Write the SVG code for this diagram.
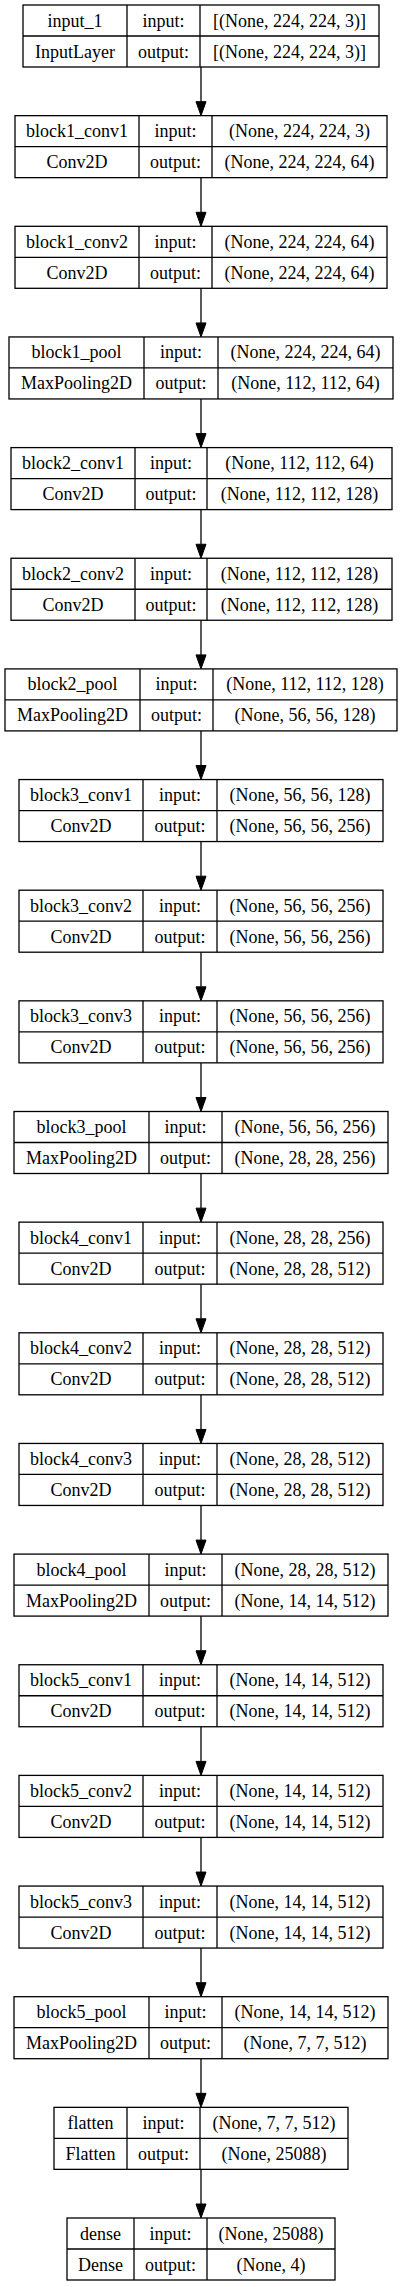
<svg xmlns="http://www.w3.org/2000/svg" width="403" height="2287" viewBox="0 0 403 2287">
<style>
.b{fill:#fff;stroke:#000;stroke-width:1.3}
.l{stroke:#000;stroke-width:1.3}
text{font-family:"Liberation Serif","Times New Roman",serif;font-size:18px;fill:#000;text-anchor:middle}
.e{stroke:#000;stroke-width:1.3;fill:none}
.h{fill:#000;stroke:#000;stroke-width:1}
</style>
<rect width="403" height="2287" fill="#fff"/>
<g id="connectors">
<line class="e" x1="201" y1="67" x2="201" y2="101.65"/><polygon class="h" points="196,101.65 206,101.65 201,115.65"/>
<line class="e" x1="201" y1="177.65" x2="201" y2="212.3"/><polygon class="h" points="196,212.3 206,212.3 201,226.3"/>
<line class="e" x1="201" y1="288.3" x2="201" y2="322.95"/><polygon class="h" points="196,322.95 206,322.95 201,336.95"/>
<line class="e" x1="201" y1="398.95" x2="201" y2="433.6"/><polygon class="h" points="196,433.6 206,433.6 201,447.6"/>
<line class="e" x1="201" y1="509.6" x2="201" y2="544.25"/><polygon class="h" points="196,544.25 206,544.25 201,558.25"/>
<line class="e" x1="201" y1="620.25" x2="201" y2="654.9"/><polygon class="h" points="196,654.9 206,654.9 201,668.9"/>
<line class="e" x1="201" y1="730.9" x2="201" y2="765.55"/><polygon class="h" points="196,765.55 206,765.55 201,779.55"/>
<line class="e" x1="201" y1="841.55" x2="201" y2="876.2"/><polygon class="h" points="196,876.2 206,876.2 201,890.2"/>
<line class="e" x1="201" y1="952.2" x2="201" y2="986.85"/><polygon class="h" points="196,986.85 206,986.85 201,1000.85"/>
<line class="e" x1="201" y1="1062.85" x2="201" y2="1097.5"/><polygon class="h" points="196,1097.5 206,1097.5 201,1111.5"/>
<line class="e" x1="201" y1="1173.5" x2="201" y2="1208.15"/><polygon class="h" points="196,1208.15 206,1208.15 201,1222.15"/>
<line class="e" x1="201" y1="1284.15" x2="201" y2="1318.8"/><polygon class="h" points="196,1318.8 206,1318.8 201,1332.8"/>
<line class="e" x1="201" y1="1394.8" x2="201" y2="1429.45"/><polygon class="h" points="196,1429.45 206,1429.45 201,1443.45"/>
<line class="e" x1="201" y1="1505.45" x2="201" y2="1540.1"/><polygon class="h" points="196,1540.1 206,1540.1 201,1554.1"/>
<line class="e" x1="201" y1="1616.1" x2="201" y2="1650.75"/><polygon class="h" points="196,1650.75 206,1650.75 201,1664.75"/>
<line class="e" x1="201" y1="1726.75" x2="201" y2="1761.4"/><polygon class="h" points="196,1761.4 206,1761.4 201,1775.4"/>
<line class="e" x1="201" y1="1837.4" x2="201" y2="1872.05"/><polygon class="h" points="196,1872.05 206,1872.05 201,1886.05"/>
<line class="e" x1="201" y1="1948.05" x2="201" y2="1982.7"/><polygon class="h" points="196,1982.7 206,1982.7 201,1996.7"/>
<line class="e" x1="201" y1="2058.7" x2="201" y2="2093.35"/><polygon class="h" points="196,2093.35 206,2093.35 201,2107.35"/>
<line class="e" x1="201" y1="2169.35" x2="201" y2="2204"/><polygon class="h" points="196,2204 206,2204 201,2218"/>
</g>
<g id="input_1" transform="translate(0,5)">
<rect class="b" x="23" y="0" width="356" height="62"/><line class="l" x1="23" y1="31" x2="379" y2="31"/><line class="l" x1="127" y1="0" x2="127" y2="62"/><line class="l" x1="200" y1="0" x2="200" y2="62"/>
<text x="75" y="21.5">input_1</text><text x="163.5" y="21.5">input:</text><text x="289.5" y="21.5">[(None, 224, 224, 3)]</text>
<text x="75" y="52.5">InputLayer</text><text x="163.5" y="52.5">output:</text><text x="289.5" y="52.5">[(None, 224, 224, 3)]</text>
</g>
<g id="block1_conv1" transform="translate(0,115.65)">
<rect class="b" x="15" y="0" width="372" height="62"/><line class="l" x1="15" y1="31" x2="387" y2="31"/><line class="l" x1="139" y1="0" x2="139" y2="62"/><line class="l" x1="212" y1="0" x2="212" y2="62"/>
<text x="77" y="21.5">block1_conv1</text><text x="175.5" y="21.5">input:</text><text x="299.5" y="21.5">(None, 224, 224, 3)</text>
<text x="77" y="52.5">Conv2D</text><text x="175.5" y="52.5">output:</text><text x="299.5" y="52.5">(None, 224, 224, 64)</text>
</g>
<g id="block1_conv2" transform="translate(0,226.3)">
<rect class="b" x="15" y="0" width="372" height="62"/><line class="l" x1="15" y1="31" x2="387" y2="31"/><line class="l" x1="139" y1="0" x2="139" y2="62"/><line class="l" x1="212" y1="0" x2="212" y2="62"/>
<text x="77" y="21.5">block1_conv2</text><text x="175.5" y="21.5">input:</text><text x="299.5" y="21.5">(None, 224, 224, 64)</text>
<text x="77" y="52.5">Conv2D</text><text x="175.5" y="52.5">output:</text><text x="299.5" y="52.5">(None, 224, 224, 64)</text>
</g>
<g id="block1_pool" transform="translate(0,336.95)">
<rect class="b" x="9" y="0" width="384" height="62"/><line class="l" x1="9" y1="31" x2="393" y2="31"/><line class="l" x1="144" y1="0" x2="144" y2="62"/><line class="l" x1="218" y1="0" x2="218" y2="62"/>
<text x="76.5" y="21.5">block1_pool</text><text x="181" y="21.5">input:</text><text x="305.5" y="21.5">(None, 224, 224, 64)</text>
<text x="76.5" y="52.5">MaxPooling2D</text><text x="181" y="52.5">output:</text><text x="305.5" y="52.5">(None, 112, 112, 64)</text>
</g>
<g id="block2_conv1" transform="translate(0,447.6)">
<rect class="b" x="11" y="0" width="381" height="62"/><line class="l" x1="11" y1="31" x2="392" y2="31"/><line class="l" x1="135" y1="0" x2="135" y2="62"/><line class="l" x1="207" y1="0" x2="207" y2="62"/>
<text x="73" y="21.5">block2_conv1</text><text x="171" y="21.5">input:</text><text x="299.5" y="21.5">(None, 112, 112, 64)</text>
<text x="73" y="52.5">Conv2D</text><text x="171" y="52.5">output:</text><text x="299.5" y="52.5">(None, 112, 112, 128)</text>
</g>
<g id="block2_conv2" transform="translate(0,558.25)">
<rect class="b" x="11" y="0" width="381" height="62"/><line class="l" x1="11" y1="31" x2="392" y2="31"/><line class="l" x1="135" y1="0" x2="135" y2="62"/><line class="l" x1="207" y1="0" x2="207" y2="62"/>
<text x="73" y="21.5">block2_conv2</text><text x="171" y="21.5">input:</text><text x="299.5" y="21.5">(None, 112, 112, 128)</text>
<text x="73" y="52.5">Conv2D</text><text x="171" y="52.5">output:</text><text x="299.5" y="52.5">(None, 112, 112, 128)</text>
</g>
<g id="block2_pool" transform="translate(0,668.9)">
<rect class="b" x="5" y="0" width="392" height="62"/><line class="l" x1="5" y1="31" x2="397" y2="31"/><line class="l" x1="140" y1="0" x2="140" y2="62"/><line class="l" x1="213" y1="0" x2="213" y2="62"/>
<text x="72.5" y="21.5">block2_pool</text><text x="176.5" y="21.5">input:</text><text x="305" y="21.5">(None, 112, 112, 128)</text>
<text x="72.5" y="52.5">MaxPooling2D</text><text x="176.5" y="52.5">output:</text><text x="305" y="52.5">(None, 56, 56, 128)</text>
</g>
<g id="block3_conv1" transform="translate(0,779.55)">
<rect class="b" x="19" y="0" width="364" height="62"/><line class="l" x1="19" y1="31" x2="383" y2="31"/><line class="l" x1="143" y1="0" x2="143" y2="62"/><line class="l" x1="217" y1="0" x2="217" y2="62"/>
<text x="81" y="21.5">block3_conv1</text><text x="180" y="21.5">input:</text><text x="300" y="21.5">(None, 56, 56, 128)</text>
<text x="81" y="52.5">Conv2D</text><text x="180" y="52.5">output:</text><text x="300" y="52.5">(None, 56, 56, 256)</text>
</g>
<g id="block3_conv2" transform="translate(0,890.2)">
<rect class="b" x="19" y="0" width="364" height="62"/><line class="l" x1="19" y1="31" x2="383" y2="31"/><line class="l" x1="143" y1="0" x2="143" y2="62"/><line class="l" x1="217" y1="0" x2="217" y2="62"/>
<text x="81" y="21.5">block3_conv2</text><text x="180" y="21.5">input:</text><text x="300" y="21.5">(None, 56, 56, 256)</text>
<text x="81" y="52.5">Conv2D</text><text x="180" y="52.5">output:</text><text x="300" y="52.5">(None, 56, 56, 256)</text>
</g>
<g id="block3_conv3" transform="translate(0,1000.85)">
<rect class="b" x="19" y="0" width="364" height="62"/><line class="l" x1="19" y1="31" x2="383" y2="31"/><line class="l" x1="143" y1="0" x2="143" y2="62"/><line class="l" x1="217" y1="0" x2="217" y2="62"/>
<text x="81" y="21.5">block3_conv3</text><text x="180" y="21.5">input:</text><text x="300" y="21.5">(None, 56, 56, 256)</text>
<text x="81" y="52.5">Conv2D</text><text x="180" y="52.5">output:</text><text x="300" y="52.5">(None, 56, 56, 256)</text>
</g>
<g id="block3_pool" transform="translate(0,1111.5)">
<rect class="b" x="14" y="0" width="374" height="62"/><line class="l" x1="14" y1="31" x2="388" y2="31"/><line class="l" x1="149" y1="0" x2="149" y2="62"/><line class="l" x1="222" y1="0" x2="222" y2="62"/>
<text x="81.5" y="21.5">block3_pool</text><text x="185.5" y="21.5">input:</text><text x="305" y="21.5">(None, 56, 56, 256)</text>
<text x="81.5" y="52.5">MaxPooling2D</text><text x="185.5" y="52.5">output:</text><text x="305" y="52.5">(None, 28, 28, 256)</text>
</g>
<g id="block4_conv1" transform="translate(0,1222.15)">
<rect class="b" x="19" y="0" width="364" height="62"/><line class="l" x1="19" y1="31" x2="383" y2="31"/><line class="l" x1="143" y1="0" x2="143" y2="62"/><line class="l" x1="217" y1="0" x2="217" y2="62"/>
<text x="81" y="21.5">block4_conv1</text><text x="180" y="21.5">input:</text><text x="300" y="21.5">(None, 28, 28, 256)</text>
<text x="81" y="52.5">Conv2D</text><text x="180" y="52.5">output:</text><text x="300" y="52.5">(None, 28, 28, 512)</text>
</g>
<g id="block4_conv2" transform="translate(0,1332.8)">
<rect class="b" x="19" y="0" width="364" height="62"/><line class="l" x1="19" y1="31" x2="383" y2="31"/><line class="l" x1="143" y1="0" x2="143" y2="62"/><line class="l" x1="217" y1="0" x2="217" y2="62"/>
<text x="81" y="21.5">block4_conv2</text><text x="180" y="21.5">input:</text><text x="300" y="21.5">(None, 28, 28, 512)</text>
<text x="81" y="52.5">Conv2D</text><text x="180" y="52.5">output:</text><text x="300" y="52.5">(None, 28, 28, 512)</text>
</g>
<g id="block4_conv3" transform="translate(0,1443.45)">
<rect class="b" x="19" y="0" width="364" height="62"/><line class="l" x1="19" y1="31" x2="383" y2="31"/><line class="l" x1="143" y1="0" x2="143" y2="62"/><line class="l" x1="217" y1="0" x2="217" y2="62"/>
<text x="81" y="21.5">block4_conv3</text><text x="180" y="21.5">input:</text><text x="300" y="21.5">(None, 28, 28, 512)</text>
<text x="81" y="52.5">Conv2D</text><text x="180" y="52.5">output:</text><text x="300" y="52.5">(None, 28, 28, 512)</text>
</g>
<g id="block4_pool" transform="translate(0,1554.1)">
<rect class="b" x="14" y="0" width="374" height="62"/><line class="l" x1="14" y1="31" x2="388" y2="31"/><line class="l" x1="149" y1="0" x2="149" y2="62"/><line class="l" x1="222" y1="0" x2="222" y2="62"/>
<text x="81.5" y="21.5">block4_pool</text><text x="185.5" y="21.5">input:</text><text x="305" y="21.5">(None, 28, 28, 512)</text>
<text x="81.5" y="52.5">MaxPooling2D</text><text x="185.5" y="52.5">output:</text><text x="305" y="52.5">(None, 14, 14, 512)</text>
</g>
<g id="block5_conv1" transform="translate(0,1664.75)">
<rect class="b" x="19" y="0" width="364" height="62"/><line class="l" x1="19" y1="31" x2="383" y2="31"/><line class="l" x1="143" y1="0" x2="143" y2="62"/><line class="l" x1="217" y1="0" x2="217" y2="62"/>
<text x="81" y="21.5">block5_conv1</text><text x="180" y="21.5">input:</text><text x="300" y="21.5">(None, 14, 14, 512)</text>
<text x="81" y="52.5">Conv2D</text><text x="180" y="52.5">output:</text><text x="300" y="52.5">(None, 14, 14, 512)</text>
</g>
<g id="block5_conv2" transform="translate(0,1775.4)">
<rect class="b" x="19" y="0" width="364" height="62"/><line class="l" x1="19" y1="31" x2="383" y2="31"/><line class="l" x1="143" y1="0" x2="143" y2="62"/><line class="l" x1="217" y1="0" x2="217" y2="62"/>
<text x="81" y="21.5">block5_conv2</text><text x="180" y="21.5">input:</text><text x="300" y="21.5">(None, 14, 14, 512)</text>
<text x="81" y="52.5">Conv2D</text><text x="180" y="52.5">output:</text><text x="300" y="52.5">(None, 14, 14, 512)</text>
</g>
<g id="block5_conv3" transform="translate(0,1886.05)">
<rect class="b" x="19" y="0" width="364" height="62"/><line class="l" x1="19" y1="31" x2="383" y2="31"/><line class="l" x1="143" y1="0" x2="143" y2="62"/><line class="l" x1="217" y1="0" x2="217" y2="62"/>
<text x="81" y="21.5">block5_conv3</text><text x="180" y="21.5">input:</text><text x="300" y="21.5">(None, 14, 14, 512)</text>
<text x="81" y="52.5">Conv2D</text><text x="180" y="52.5">output:</text><text x="300" y="52.5">(None, 14, 14, 512)</text>
</g>
<g id="block5_pool" transform="translate(0,1996.7)">
<rect class="b" x="14" y="0" width="374" height="62"/><line class="l" x1="14" y1="31" x2="388" y2="31"/><line class="l" x1="149" y1="0" x2="149" y2="62"/><line class="l" x1="222" y1="0" x2="222" y2="62"/>
<text x="81.5" y="21.5">block5_pool</text><text x="185.5" y="21.5">input:</text><text x="305" y="21.5">(None, 14, 14, 512)</text>
<text x="81.5" y="52.5">MaxPooling2D</text><text x="185.5" y="52.5">output:</text><text x="305" y="52.5">(None, 7, 7, 512)</text>
</g>
<g id="flatten" transform="translate(0,2107.35)">
<rect class="b" x="54" y="0" width="294" height="62"/><line class="l" x1="54" y1="31" x2="348" y2="31"/><line class="l" x1="127" y1="0" x2="127" y2="62"/><line class="l" x1="200" y1="0" x2="200" y2="62"/>
<text x="90.5" y="21.5">flatten</text><text x="163.5" y="21.5">input:</text><text x="274" y="21.5">(None, 7, 7, 512)</text>
<text x="90.5" y="52.5">Flatten</text><text x="163.5" y="52.5">output:</text><text x="274" y="52.5">(None, 25088)</text>
</g>
<g id="dense" transform="translate(0,2218)">
<rect class="b" x="67" y="0" width="268" height="62"/><line class="l" x1="67" y1="31" x2="335" y2="31"/><line class="l" x1="134" y1="0" x2="134" y2="62"/><line class="l" x1="207" y1="0" x2="207" y2="62"/>
<text x="100.5" y="21.5">dense</text><text x="170.5" y="21.5">input:</text><text x="271" y="21.5">(None, 25088)</text>
<text x="100.5" y="52.5">Dense</text><text x="170.5" y="52.5">output:</text><text x="271" y="52.5">(None, 4)</text>
</g>
</svg>
